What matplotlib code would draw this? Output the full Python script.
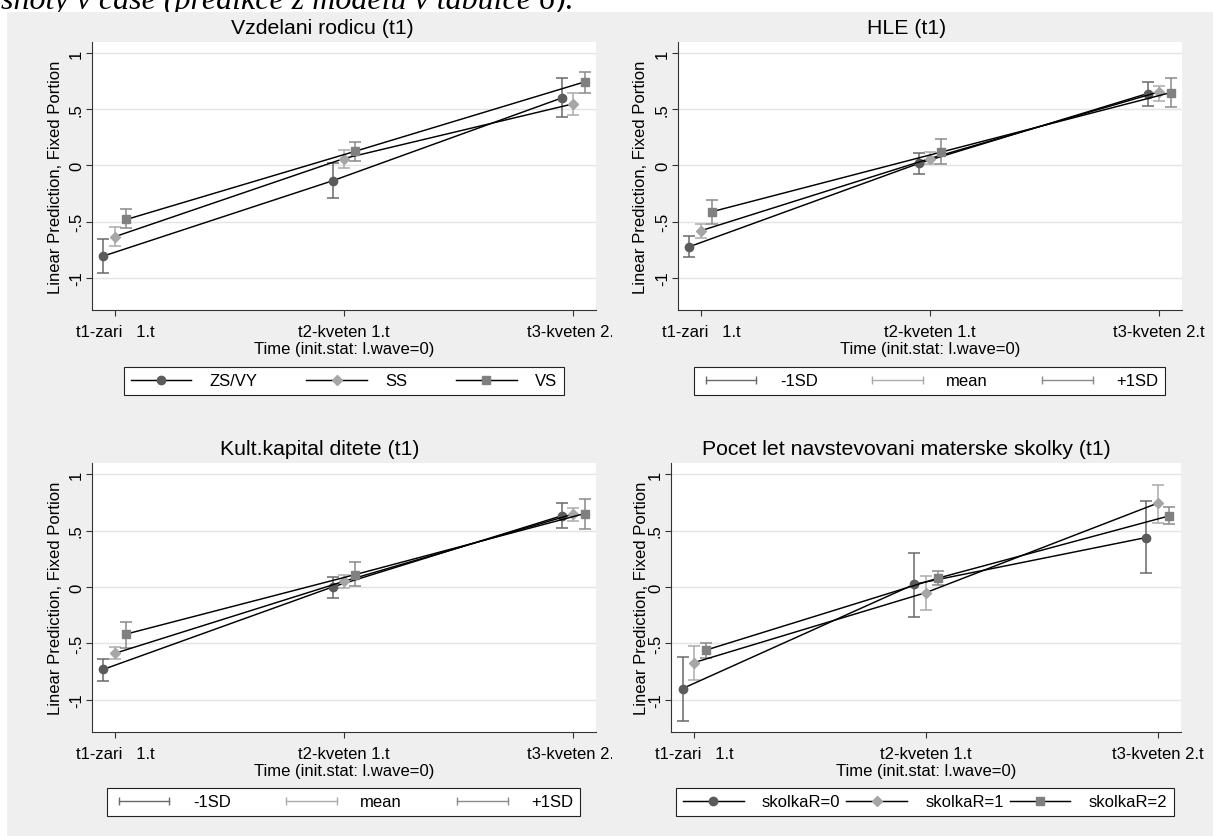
import numpy as np
import matplotlib
matplotlib.use("Agg")
from matplotlib import pyplot as plt
from matplotlib.lines import Line2D
from matplotlib.patches import Rectangle
from matplotlib.transforms import Bbox, TransformedBbox

W, H = 1213, 837

# Data
times = [1, 2, 3]
time_labels = ["t1-zari   1.t", "t2-kveten 1.t", "t3-kveten 2.t"]
y_ticks = [-1, -0.5, 0, 0.5, 1]
y_tick_labels = ["-1", "-.5", "0", ".5", "1"]

# Vzdelani rodicu (t1)
vzd_names = ["ZS/VY", "SS", "VS"]
vzd_est = [[-0.805, -0.136, 0.600], [-0.633, 0.062, 0.548], [-0.480, 0.127, 0.743]]
vzd_lo = [[-0.960, -0.290, 0.430], [-0.716, -0.020, 0.453], [-0.560, 0.044, 0.645]]
vzd_hi = [[-0.655, 0.020, 0.775], [-0.548, 0.136, 0.648], [-0.390, 0.207, 0.832]]

# HLE (t1)
hle_names = ["-1SD", "mean", "+1SD"]
hle_est = [[-0.722, 0.018, 0.640], [-0.580, 0.062, 0.655], [-0.410, 0.120, 0.648]]
hle_lo = [[-0.814, -0.077, 0.527], [-0.642, 0.009, 0.575], [-0.524, 0.015, 0.520]]
hle_hi = [[-0.625, 0.113, 0.746], [-0.524, 0.120, 0.708], [-0.308, 0.234, 0.775]]

# Kult.kapital ditete (t1)
kul_names = ["-1SD", "mean", "+1SD"]
kul_est = [[-0.730, 0.000, 0.630], [-0.588, 0.050, 0.645], [-0.417, 0.110, 0.650]]
kul_lo = [[-0.834, -0.100, 0.520], [-0.640, -0.005, 0.580], [-0.538, 0.010, 0.510]]
kul_hi = [[-0.635, 0.090, 0.740], [-0.530, 0.110, 0.700], [-0.307, 0.220, 0.780]]

# Pocet let navstevovani materske skolky (t1)
sko_names = ["skolkaR=0", "skolkaR=1", "skolkaR=2"]
sko_est = [[-0.900, 0.024, 0.438], [-0.670, -0.050, 0.743], [-0.560, 0.077, 0.630]]
sko_lo = [[-1.190, -0.263, 0.120], [-0.820, -0.207, 0.568], [-0.630, 0.021, 0.554]]
sko_hi = [[-0.620, 0.305, 0.763], [-0.520, 0.098, 0.905], [-0.500, 0.137, 0.705]]

# Styles
markers = ["o", "D", "s"]
msizes = [6.0, 5.3, 6.2]
mcolors = ["#5b5b5b", "#a6a6a6", "#808080"]
ci_colors = ["#6a6a6a", "#ababab", "#8a8a8a"]
offsets = [-0.05, 0.0, 0.05]

plt.rcParams['font.family'] = ['Liberation Sans', 'DejaVu Sans']
plt.rcParams['font.size'] = 12

fig = plt.figure(figsize=(W / 100, H / 100), dpi=100)
fig.patch.set_facecolor('white')
fig.add_artist(Rectangle((7 / W, 0), 1 - 7 / W, 1 - 13 / H, transform=fig.transFigure,
                         facecolor='#efefef', edgecolor='none', zorder=-1))
fig.text(1 / W, 1 - 9.5 / H, "shoty v case (predikce z modelu v tabulce 6).",
         family=['Liberation Serif', 'DejaVu Serif'], style='italic', fontsize=23,
         va='baseline', ha='left', zorder=-2)


def px_axes(left, top, right, bottom):
    return fig.add_axes([left / W, 1 - bottom / H, (right - left) / W, (bottom - top) / H])


def draw_panel(box, title, title_xy, est, lo, hi, names, ci_legend, legend_box, clip_right=None):
    left, top, right, bottom = box
    ax = px_axes(left, top, right, bottom)
    handles = []
    for k in range(3):
        xs = np.array(times) + offsets[k]
        e = np.array(est[k])
        ax.errorbar(xs, e, yerr=[e - np.array(lo[k]), np.array(hi[k]) - e], fmt='none',
                    ecolor=ci_colors[k], elinewidth=1.1, capsize=4, capthick=1.1, zorder=2)
        ln, = ax.plot(xs, e, color='black', lw=1.05, marker=markers[k], ms=msizes[k],
                      mfc=mcolors[k], mec=mcolors[k], zorder=3)
        if ci_legend:
            handles.append(Line2D([], [], color=ci_colors[k], lw=1.0, marker='|', ms=6))
        else:
            handles.append(ln)

    ax.set_xlim(0.9, 3.1)
    ax.set_ylim(-1.285, 1.098)
    ax.set_xticks(times)
    ax.set_xticklabels(time_labels)
    ax.set_yticks(y_ticks)
    ax.set_yticklabels(y_tick_labels, rotation=90, va='center')
    ax.grid(axis='y', color='#e4e4e4', lw=1.0)
    ax.set_axisbelow(True)
    for s in ['top', 'right']:
        ax.spines[s].set_visible(False)
    for s in ['left', 'bottom']:
        ax.spines[s].set_color('#333333')
        ax.spines[s].set_linewidth(0.8)
    ax.tick_params(length=4.3, width=0.8, color='#333333', labelsize=12)
    ax.tick_params(axis='x', pad=5.5)
    ax.tick_params(axis='y', pad=1.5)

    ax.set_xlabel("Time (init.stat: l.wave=0)", fontsize=12, va='center')
    ax.xaxis.set_label_coords(0.5, -(38.5) / (bottom - top))
    ax.set_ylabel("Linear Prediction, Fixed Portion", fontsize=12, va='center')
    ylab_x = 55.5 if left < 600 else 641
    ax.yaxis.set_label_coords((ylab_x - left) / (right - left), 0.5)

    fig.text(title_xy[0] / W, 1 - title_xy[1] / H, title, fontsize=15.3,
             ha='center', va='center')

    lx0, ly0, lx1, ly1 = legend_box
    leg = ax.legend(handles, names, ncol=3, mode='expand', loc='center',
                    bbox_to_anchor=(lx0 / W, 1 - ly1 / H, (lx1 - lx0) / W, (ly1 - ly0) / H),
                    bbox_transform=fig.transFigure, borderaxespad=0, frameon=True,
                    fancybox=False, edgecolor='#222222', facecolor='white', framealpha=1,
                    handlelength=3.65, handletextpad=1.1, borderpad=0.4,
                    numpoints=2 if ci_legend else 1, fontsize=12)
    leg.get_frame().set_linewidth(0.8)

    if clip_right is not None:
        clip = TransformedBbox(Bbox.from_extents(0, 0, clip_right / W, 1), fig.transFigure)
        for lab in ax.get_xticklabels():
            lab.set_clip_box(clip)
            lab.set_clip_on(True)
    return ax


draw_panel((92, 43, 596, 311), "Vzdelani rodicu (t1)", (322, 29),
           vzd_est, vzd_lo, vzd_hi, vzd_names, False, (124, 367, 564, 397), clip_right=612)
draw_panel((678, 43, 1182, 311), "HLE (t1)", (907, 29),
           hle_est, hle_lo, hle_hi, hle_names, True, (694, 367, 1165, 397))
draw_panel((92, 464, 596, 733), "Kult.kapital ditete (t1)", (320, 450),
           kul_est, kul_lo, kul_hi, kul_names, True, (107, 788, 580, 818), clip_right=612)
draw_panel((671, 464, 1181, 733), "Pocet let navstevovani materske skolky (t1)", (906, 450),
           sko_est, sko_lo, sko_hi, sko_names, False, (676, 788, 1174, 818))

fig.savefig("out.png", dpi=100)
